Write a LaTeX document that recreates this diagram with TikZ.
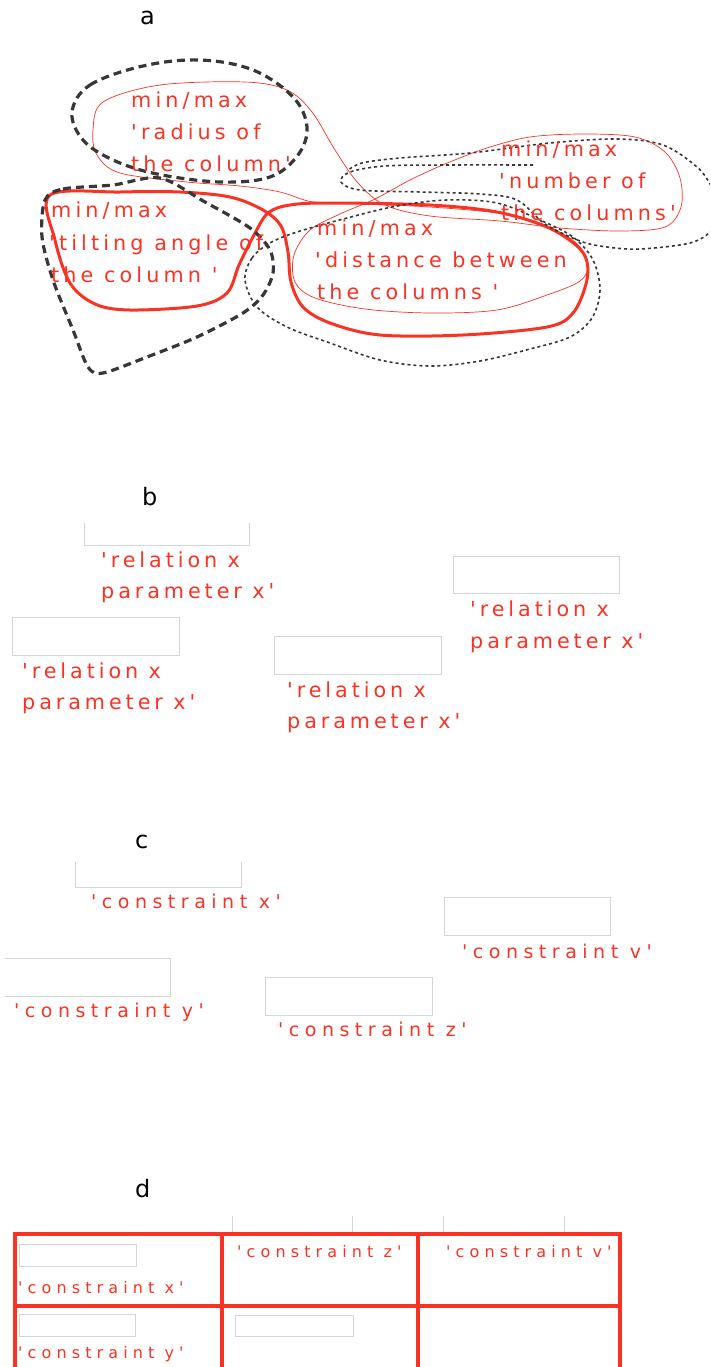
\documentclass[tikz,border=0pt]{standalone}
\usepackage{fontspec}
\newfontfamily\fa[LetterSpace=20]{DejaVu Sans}
\newfontfamily\fb[LetterSpace=19]{DejaVu Sans}
\newfontfamily\fc[LetterSpace=29]{DejaVu Sans}
\newfontfamily\fd[LetterSpace=32]{DejaVu Sans}
\newfontfamily\fl{DejaVu Sans}
\definecolor{rd}{RGB}{250,50,36}
\definecolor{dk}{RGB}{55,55,55}
\definecolor{fg}{RGB}{214,214,214}
\begin{document}
\begin{tikzpicture}[x=1pt,y=-1pt,
  lbl/.style={font=\fl\fontsize{24}{24}\selectfont, text=black, inner sep=0pt, anchor=base west},
  ta/.style={font=\fa\fontsize{20.7}{24}\selectfont, text=rd, inner sep=0pt, anchor=base west},
  tb/.style={font=\fb\fontsize{20.7}{24}\selectfont, text=rd, inner sep=0pt, anchor=base west},
  tc/.style={font=\fc\fontsize{19}{24}\selectfont, text=rd, inner sep=0pt, anchor=base west},
  td/.style={font=\fd\fontsize{16}{20}\selectfont, text=rd, inner sep=0pt, anchor=base west},
  fld/.style={draw=fg, line width=0.9pt},
  tick/.style={draw=fg, line width=0.8pt},
  thickred/.style={draw=rd, line width=3pt},
  thinred/.style={draw=rd, line width=0.7pt},
  bigdash/.style={draw=dk, line width=3.2pt, dash pattern=on 8pt off 5pt},
  smalldot/.style={draw=dk, line width=1.6pt, dash pattern=on 3pt off 3pt},
  tbl/.style={draw=rd, line width=4.5pt},
]
\useasboundingbox (0,0) rectangle (710,1367);
\begin{scope}
\clip (0,0) rectangle (710,1367);
% ---------- section a : outlines ----------
% thin red lasso (block1 - block4 - block3)
\draw[thinred] plot[smooth cycle, tension=0.55] coordinates {
  (93,130) (103,102) (160,85) (245,82) (287,90) (312,112) (335,150) (358,183)
  (385,205) (430,216) (500,221) (560,228) (620,231) (665,227) (681,207) (680,178)
  (665,152) (635,137) (583,134) (530,137) (487,148) (445,164) (410,180) (375,199)
  (340,214) (310,230) (294,255) (295,282) (315,298) (365,309) (430,313) (497,310)
  (547,295) (580,281) (588,264) (575,242) (540,223) (497,213) (430,207) (360,204)
  (313,202) (280,192) (240,186) (187,182) (120,173) (97,155)};
% thick red figure eight (block2 - block3)
\draw[thickred] plot[smooth cycle, tension=0.55] coordinates {
  (50,195) (120,192) (180,192) (230,197) (263,210) (281,226) (288,252) (291,282)
  (303,307) (330,323) (380,335) (463,335) (547,327) (573,313) (586,284) (587,262)
  (577,246) (547,227) (497,212) (430,205) (330,203) (290,205) (268,213) (254,235)
  (239,265) (227,293) (197,306) (130,310) (95,304) (70,283) (55,240)};
% thick dashed around block1
\draw[bigdash] plot[smooth cycle, tension=0.6] coordinates {
  (72,112) (90,85) (143,66) (200,60) (253,70) (293,97) (307,127) (298,155)
  (270,177) (220,182) (157,174) (113,160) (83,140)};
% thick dashed around block2
\draw[bigdash] plot[smooth cycle, tension=0.5] coordinates {
  (45,200) (63,189) (113,185) (160,178) (205,202) (250,228) (270,250) (273,273)
  (263,295) (243,313) (197,337) (147,357) (103,373) (88,367) (73,330) (53,280) (42,237)};
% dotted around block3
\draw[smalldot] plot[smooth cycle, tension=0.55] coordinates {
  (245,280) (252,258) (270,243) (297,232) (347,218) (397,206) (447,200) (497,203)
  (540,220) (573,237) (593,260) (600,290) (592,318) (570,337) (530,349) (480,361)
  (430,366) (380,360) (330,343) (287,327) (257,307)};
% dotted around block4 (open, runs off the right edge)
\draw[smalldot] plot[smooth, tension=0.55] coordinates {
  (533,165) (450,165) (385,166) (350,172) (341,182) (360,190) (420,192) (480,194)
  (517,200) (545,224) (580,241) (607,247) (640,249) (690,243) (712,230) (724,208)
  (712,187) (697,167) (663,145) (617,139) (550,143) (470,153) (400,158) (362,163) (347,171)};
% ---------- section d : table ----------
\draw[tbl] (15,1380) -- (15,1234) -- (620,1234) -- (620,1380);
\draw[tbl] (222,1234) -- (222,1380);
\draw[tbl] (418,1234) -- (418,1380);
\draw[tbl] (15,1306) -- (620,1306);
\end{scope}

% ---------- section a : labels ----------
\node[lbl] (la) at (140,25) {a};
\node[ta] (r1) at (131,108) {min/max};
\node[ta] (r2) at (131,140) {'radius of};
\node[ta] (r3) at (131,172) {the column'};
\node[ta] (t1) at (51,218) {min/max};
\node[ta] (t2) at (49,250) {'tilting angle of};
\node[ta] (t3) at (51,282) {the column '};
\node[ta] (d1) at (317,235) {min/max};
\node[ta] (d2) at (315,267) {'distance between};
\node[ta] (d3) at (317,299) {the columns '};
\node[ta] (n1) at (501,157) {min/max};
\node[ta] (n2) at (499,189) {'number of};
\node[ta] (n3) at (501,220) {the columns'};

% ---------- section b ----------
\node[lbl] (lb) at (142,505) {b};
\draw[fld] (84,523) -- (84,545) -- (249,545) -- (249,523);
\draw[fld] (453,556) rectangle (619,593);
\draw[fld] (12,617) rectangle (179,655);
\draw[fld] (274,636) rectangle (441,674);
\node[tb] (b1a) at (101,567) {'relation x};
\node[tb] (b1b) at (101,598) {parameter x'};
\node[tb] (b2a) at (470,616) {'relation x};
\node[tb] (b2b) at (470,648) {parameter x'};
\node[tb] (b3a) at (22,678) {'relation x};
\node[tb] (b3b) at (22,709) {parameter x'};
\node[tb] (b4a) at (287,697) {'relation x};
\node[tb] (b4b) at (287,728) {parameter x'};

% ---------- section c ----------
\node[lbl] (lc) at (135,848) {c};
\draw[fld] (75,862) -- (75,887) -- (241,887) -- (241,862);
\draw[fld] (444,897) rectangle (610,935);
\draw[fld] (5,958) -- (170,958) -- (170,996) -- (5,996);
\draw[fld] (265,977) rectangle (432,1015);
\node[tc] (c1) at (91,908) {'constraint x'};
\node[tc] (c2) at (462,958) {'constraint v'};
\node[tc] (c3) at (14,1017) {'constraint y'};
\node[tc] (c4) at (278,1036) {'constraint z'};

% ---------- section d ----------
\node[lbl] (ld) at (135,1197) {d};
\draw[tick] (232,1216) -- (232,1232);
\draw[tick] (352,1216) -- (352,1232);
\draw[tick] (443,1216) -- (443,1232);
\draw[tick] (564,1216) -- (564,1232);
\draw[fld] (19,1244) rectangle (136,1266);
\draw[fld] (19,1314) rectangle (135,1336);
\draw[fld] (235,1315) rectangle (353,1336);
\node[td] (e1) at (18,1293) {'constraint x'};
\node[td] (e2) at (237,1257) {'constraint z'};
\node[td] (e3) at (446,1257) {'constraint v'};
\node[td] (e4) at (18,1358) {'constraint y'};
\end{tikzpicture}
\end{document}
